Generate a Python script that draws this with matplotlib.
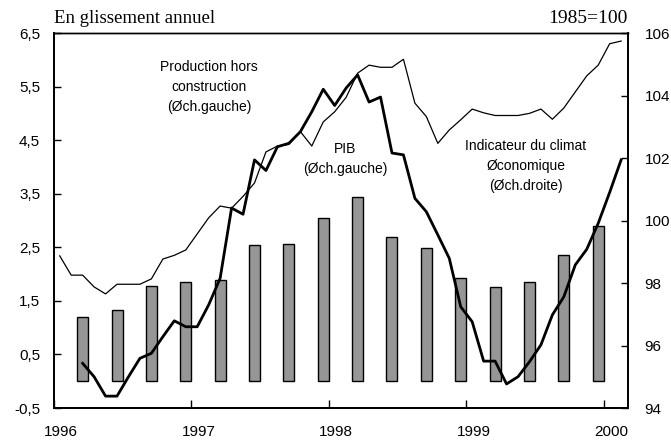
import numpy as np
import matplotlib
matplotlib.use("Agg")
import matplotlib.pyplot as plt
import matplotlib.transforms as mtransforms

# Data
# PIB, quarterly (left axis), one bar per quarter 1996Q1..1999Q4
pib_years = [1996]*4 + [1997]*4 + [1998]*4 + [1999]*4
pib_quarters = [1, 2, 3, 4] * 4
pib = [1.20, 1.33, 1.77, 1.85, 1.89, 2.55, 2.57, 3.05,
       3.44, 2.70, 2.49, 1.93, 1.75, 1.85, 2.36, 2.90]

# thin line, monthly from Jan 1996 (left axis)
prod_start = (1996, 1)
prod = [2.34, 1.98, 1.98, 1.76, 1.63, 1.81, 1.81, 1.81, 1.91, 2.28, 2.35, 2.45,
        2.75, 3.05, 3.27, 3.23, 3.45, 3.70, 4.28, 4.39, 4.42, 4.66, 4.39, 4.84,
        5.03, 5.30, 5.75, 5.90, 5.86, 5.86, 6.01, 5.19, 4.94, 4.44, 4.69, 4.88,
        5.08, 5.01, 4.96, 4.96, 4.96, 5.00, 5.08, 4.89, 5.10, 5.40, 5.70, 5.90,
        6.30, 6.35]

# thick line, monthly from Mar 1996 (right axis, 1985=100)
climat_start = (1996, 3)
climat = [95.43, 95.00, 94.38, 94.38, 95.00, 95.59, 95.75, 96.28, 96.79, 96.60,
          96.60, 97.30, 98.15, 100.40, 100.20, 101.94, 101.60, 102.36, 102.47, 102.84, 103.48, 104.20,
          103.68, 104.24, 104.66, 103.79, 103.95, 102.16, 102.10, 100.71, 100.28, 99.54, 98.79, 97.24,
          96.76, 95.50, 95.50, 94.77, 95.00, 95.48, 96.02, 96.98, 97.56, 98.58, 99.08, 99.91,
          100.90, 101.94]

left_ticks = [-0.5, 0.5, 1.5, 2.5, 3.5, 4.5, 5.5, 6.5]
right_ticks = [94, 96, 98, 100, 102, 104, 106]
year_ticks = [1996, 1997, 1998, 1999, 2000]


def month_x(start, n):
    y, m = start
    k = np.arange(n) + (m - 1)
    return y + (k + 0.5) / 12.0


x_pib = np.array(pib_years) + (np.array(pib_quarters) * 3 - 0.5) / 12.0
x_prod = month_x(prod_start, len(prod))
x_clim = month_x(climat_start, len(climat))

plt.rcParams['font.family'] = ['Liberation Sans', 'DejaVu Sans']

fig = plt.figure(figsize=(6.71, 4.41), dpi=100)
ax = fig.add_axes([54/671, 1 - 408/441, (628 - 54)/671, (408 - 33)/441])
ax2 = ax.twinx()

ax.bar(x_pib, pib, width=0.08, color='#969696', edgecolor='black', linewidth=1.0, zorder=2)
ax.plot(x_prod, prod, color='black', linewidth=0.9, zorder=3)
ax2.plot(x_clim, climat, color='black', linewidth=2.0, zorder=3)

ax.set_xlim(1996, 2000.175)
ax.set_ylim(-0.5, 6.5)
ax2.set_ylim(94, 106)

ax.set_yticks(left_ticks)
ax.set_yticklabels([('%.1f' % v).replace('.', ',') for v in left_ticks])
ax2.set_yticks(right_ticks)
ax2.set_yticklabels([str(v) for v in right_ticks])
ax.set_xticks(year_ticks)
ax.set_xticklabels([str(v) for v in year_ticks])

ax.tick_params(axis='y', direction='in', length=5, width=1, labelsize=11, pad=10)
ax2.tick_params(axis='y', direction='in', length=5, width=1, labelsize=11, pad=12)
ax.tick_params(axis='x', direction='in', length=6, width=1, labelsize=11, pad=12)

# x labels sit a bit right of their ticks in the original
offset = mtransforms.ScaledTranslation(7/100, 0, fig.dpi_scale_trans)
for lab in ax.get_xticklabels():
    lab.set_transform(lab.get_transform() + offset)

for a in (ax, ax2):
    for s in a.spines.values():
        s.set_linewidth(1.3)
    a.spines['top'].set_linewidth(1.0)

ax.text(0.0, 1.015, 'En glissement annuel', transform=ax.transAxes, ha='left', va='bottom',
        family='Liberation Serif', fontsize=13.5)
ax.text(1.0, 1.015, '1985=100', transform=ax.transAxes, ha='right', va='bottom',
        family='Liberation Serif', fontsize=14)

ax.text(1997.13, 5.49, 'Production hors\nconstruction\n(Øch.gauche)', ha='center', va='center',
        fontsize=10, linespacing=1.55)
ax.text(1998.12, 4.14, 'PIB\n(Øch.gauche)', ha='center', va='center',
        fontsize=10, linespacing=1.55)
ax.text(1999.43, 4.02, 'Indicateur du climat\nØconomique\n(Øch.droite)', ha='center', va='center',
        fontsize=10, linespacing=1.55)

fig.savefig('out.png', dpi=100)
